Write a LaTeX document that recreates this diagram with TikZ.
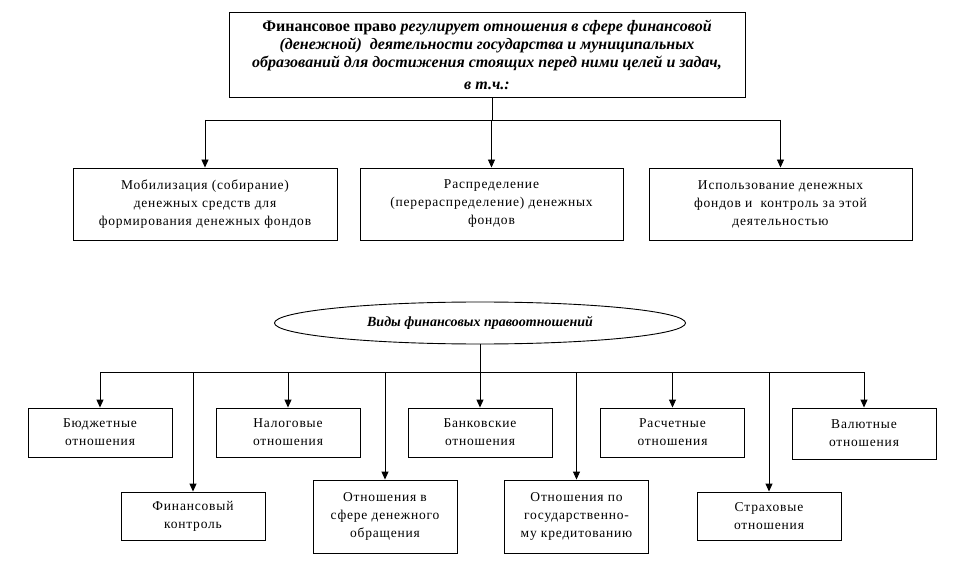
\documentclass[tikz,border=0pt]{standalone}
\usepackage{fontspec}
\setmainfont{Liberation Serif}
\usetikzlibrary{arrows.meta,positioning,shapes.geometric,calc}

\tikzset{
  box/.style={draw,line width=0.9pt,align=center,inner sep=0pt,
    font=\fontsize{13.5}{18}\selectfont\addfontfeature{LetterSpace=6}},
  kindbox/.style={box,minimum width=144pt,minimum height=49pt},
  link/.style={line width=0.9pt},
}

\begin{document}
\begin{tikzpicture}[x=1pt,y=-1pt,>={Triangle[width=7pt,length=8pt]}]
  \useasboundingbox (0,0) rectangle (961,577);

  % financial law
  \node[box,minimum width=516pt,minimum height=85pt,
    font=\fontsize{16}{18}\selectfont\bfseries] (law) at (487,54.5)
    {Финансовое право \textit{регулирует отношения в сфере финансовой}\\
     \textit{(денежной)\ \ деятельности государства и муниципальных}\\
     \textit{образований для достижения стоящих перед ними целей и задач,}\\[4pt]
     \textit{в т.ч.:}};

  \node[box,minimum width=264pt,minimum height=72pt] (mobil) at (205,204)
    {Мобилизация (собирание)\\денежных средств для\\формирования денежных фондов};
  \node[box,minimum width=263pt,minimum height=72pt] (distr) at (491.5,204)
    {Распределение\\(перераспределение) денежных\\фондов};
  \node[box,minimum width=263pt,minimum height=72pt] (usage) at (780.5,204)
    {Использование денежных\\фондов и\ \ контроль за этой\\деятельностью};

  \coordinate (bar1) at (492,120);
  \draw[link] (law.south -| bar1) -- (bar1);
  \draw[link] (bar1 -| mobil.north) -- (bar1 -| usage.north);
  \foreach \n in {mobil,distr,usage}
    \draw[link,->] (bar1 -| \n.north) -- (\n.north);

  % kinds of relations
  \node[ellipse,draw,line width=0.9pt,inner sep=0pt,minimum width=411pt,minimum height=42pt,
    font=\fontsize{14}{17}\selectfont\bfseries\itshape] (kinds) at (480,323)
    {Виды финансовых правоотношений};
  \coordinate (bar2) at (480,372);
  \draw[link] (kinds.south) -- (bar2);

  \foreach \n/\x/\y/\h/\t in {
      budget/100/432.5/49/{Бюджетные\\отношения},
      finctrl/193/516/48/{Финансовый\\контроль},
      tax/288/432.5/49/{Налоговые\\отношения},
      circul/385/516.5/73/{Отношения в\\сфере денежного\\обращения},
      bank/480/432.5/49/{Банковские\\отношения},
      credit/576.5/516.5/73/{Отношения по\\государственно-\\му кредитованию},
      settle/672.5/432.5/49/{Расчетные\\отношения},
      insur/769/516/48/{Страховые\\отношения},
      currency/864/433.5/51/{Валютные\\отношения}} {
    \node[kindbox,minimum height=\h pt] (\n) at (\x,\y) {\t};
    \draw[link,->] (bar2 -| \n.north) -- (\n.north);
  }
  \draw[link] (bar2 -| budget.north) -- (bar2 -| currency.north);
\end{tikzpicture}
\end{document}
